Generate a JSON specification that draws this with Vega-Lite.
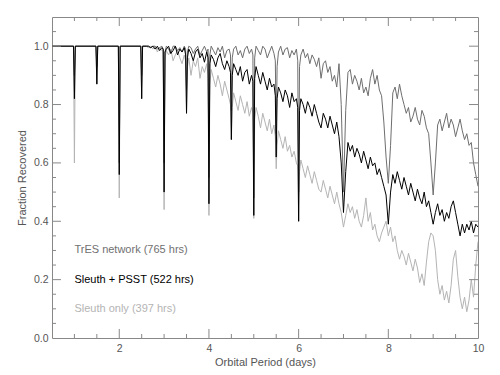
{
"$schema":"https://vega.github.io/schema/vega-lite/v6.json",
"width":426,"height":321,
"autosize":"none",
"padding":{"left":52,"top":17,"right":22,"bottom":37},
"background":"white",
"config":{"view":{"stroke":"#888","strokeWidth":1},
"axis":{"labelFont":"Liberation Sans","titleFont":"Liberation Sans","labelFontSize":10.5,"titleFontSize":11,"titleFontWeight":"normal","labelColor":"#555","titleColor":"#555","domain":false,"grid":false,"ticks":false}},
"datasets":{
"xmaj":[{"v":2},{"v":4},{"v":6},{"v":8}],
"xmin":[{"v":1},{"v":1.5},{"v":2.5},{"v":3},{"v":3.5},{"v":4.5},{"v":5},{"v":5.5},{"v":6.5},{"v":7},{"v":7.5},{"v":8.5},{"v":9},{"v":9.5}],
"ymaj":[{"v":0.2},{"v":0.4},{"v":0.6},{"v":0.8},{"v":1.0}],
"ymin":[{"v":0.05},{"v":0.1},{"v":0.15},{"v":0.25},{"v":0.3},{"v":0.35},{"v":0.45},{"v":0.5},{"v":0.55},{"v":0.65},{"v":0.7},{"v":0.75},{"v":0.85},{"v":0.9},{"v":0.95},{"v":1.05}],
"d":[
{"x":0.5,"t":1,"s":1,"o":1},{"x":0.98,"t":1,"s":1,"o":1},{"x":1.0,"t":0.9,"s":0.82,"o":0.6},{"x":1.02,"t":1,"s":1,"o":1},
{"x":1.48,"t":1,"s":1,"o":1},{"x":1.5,"t":0.93,"s":0.87,"o":0.87},{"x":1.52,"t":1,"s":1,"o":1},
{"x":1.98,"t":1,"s":1,"o":1},{"x":2.0,"t":0.6,"s":0.56,"o":0.48},{"x":2.02,"t":1,"s":1,"o":1},
{"x":2.48,"t":1,"s":1,"o":1},{"x":2.5,"t":0.9,"s":0.82,"o":0.82},{"x":2.52,"t":1,"s":1,"o":1},
{"x":2.6,"t":1,"s":1,"o":1},{"x":2.65,"t":1,"s":1,"o":0.995},{"x":2.7,"t":0.995,"s":0.995,"o":1},{"x":2.75,"t":1,"s":1,"o":0.99},
{"x":2.8,"t":1,"s":0.99,"o":1},{"x":2.85,"t":0.99,"s":1,"o":0.98},{"x":2.9,"t":0.995,"s":0.985,"o":0.995},{"x":2.95,"t":1,"s":0.995,"o":0.985},
{"x":2.98,"t":0.99,"s":0.99,"o":0.99},{"x":3.0,"t":0.6,"s":0.5,"o":0.44},{"x":3.02,"t":0.98,"s":0.98,"o":0.96},
{"x":3.05,"t":1,"s":0.99,"o":0.985},{"x":3.1,"t":0.99,"s":1,"o":0.97},{"x":3.15,"t":0.975,"s":0.975,"o":0.99},{"x":3.2,"t":1,"s":0.985,"o":0.95},
{"x":3.25,"t":1,"s":1,"o":0.97},{"x":3.3,"t":0.985,"s":0.97,"o":0.985},{"x":3.35,"t":0.995,"s":0.99,"o":0.96},{"x":3.4,"t":0.98,"s":0.98,"o":0.94},
{"x":3.45,"t":1,"s":0.995,"o":0.97},{"x":3.48,"t":0.99,"s":0.97,"o":0.95},{"x":3.5,"t":0.85,"s":0.77,"o":0.77},{"x":3.52,"t":0.98,"s":0.96,"o":0.93},
{"x":3.55,"t":1,"s":0.99,"o":0.96},{"x":3.6,"t":0.995,"s":0.975,"o":0.9},{"x":3.65,"t":0.975,"s":0.95,"o":0.95},{"x":3.7,"t":0.99,"s":0.98,"o":0.93},
{"x":3.75,"t":1,"s":0.99,"o":0.96},{"x":3.8,"t":0.97,"s":0.96,"o":0.89},{"x":3.85,"t":0.985,"s":0.975,"o":0.93},{"x":3.9,"t":1,"s":0.945,"o":0.91},
{"x":3.95,"t":0.98,"s":0.98,"o":0.94},{"x":3.98,"t":0.99,"s":0.96,"o":0.9},{"x":4.0,"t":0.55,"s":0.46,"o":0.42},{"x":4.02,"t":0.97,"s":0.94,"o":0.87},
{"x":4.05,"t":1,"s":0.97,"o":0.92},{"x":4.1,"t":0.985,"s":0.955,"o":0.89},{"x":4.15,"t":0.97,"s":0.93,"o":0.86},{"x":4.2,"t":0.995,"s":0.96,"o":0.9},
{"x":4.25,"t":0.98,"s":0.975,"o":0.87},{"x":4.3,"t":1,"s":0.94,"o":0.83},{"x":4.35,"t":0.96,"s":0.92,"o":0.88},{"x":4.4,"t":0.985,"s":0.95,"o":0.85},
{"x":4.45,"t":0.99,"s":0.93,"o":0.82},{"x":4.48,"t":0.97,"s":0.91,"o":0.8},{"x":4.5,"t":0.78,"s":0.68,"o":0.68},{"x":4.52,"t":0.96,"s":0.9,"o":0.79},
{"x":4.55,"t":0.99,"s":0.94,"o":0.84},{"x":4.6,"t":1,"s":0.92,"o":0.81},{"x":4.65,"t":0.97,"s":0.9,"o":0.78},{"x":4.7,"t":0.985,"s":0.93,"o":0.83},
{"x":4.75,"t":0.96,"s":0.88,"o":0.8},{"x":4.8,"t":0.99,"s":0.91,"o":0.77},{"x":4.85,"t":1,"s":0.92,"o":0.81},{"x":4.9,"t":0.975,"s":0.87,"o":0.76},
{"x":4.95,"t":0.99,"s":0.9,"o":0.79},{"x":4.98,"t":0.97,"s":0.88,"o":0.77},{"x":5.0,"t":0.48,"s":0.42,"o":0.41},{"x":5.02,"t":0.96,"s":0.89,"o":0.75},
{"x":5.05,"t":1,"s":0.93,"o":0.79},{"x":5.1,"t":0.985,"s":0.9,"o":0.76},{"x":5.15,"t":0.97,"s":0.87,"o":0.72},{"x":5.2,"t":1,"s":0.91,"o":0.77},
{"x":5.25,"t":0.99,"s":0.88,"o":0.74},{"x":5.3,"t":0.96,"s":0.85,"o":0.71},{"x":5.35,"t":0.98,"s":0.89,"o":0.75},{"x":5.4,"t":1,"s":0.86,"o":0.7},
{"x":5.45,"t":0.975,"s":0.87,"o":0.73},{"x":5.48,"t":0.95,"s":0.83,"o":0.69},{"x":5.5,"t":0.7,"s":0.62,"o":0.58},{"x":5.52,"t":0.93,"s":0.82,"o":0.66},
{"x":5.55,"t":0.98,"s":0.86,"o":0.71},{"x":5.6,"t":1,"s":0.84,"o":0.68},{"x":5.65,"t":0.97,"s":0.81,"o":0.65},{"x":5.7,"t":0.99,"s":0.85,"o":0.69},
{"x":5.75,"t":0.995,"s":0.83,"o":0.64},{"x":5.8,"t":0.96,"s":0.79,"o":0.66},{"x":5.85,"t":0.985,"s":0.84,"o":0.62},{"x":5.9,"t":0.97,"s":0.81,"o":0.64},
{"x":5.95,"t":0.99,"s":0.82,"o":0.6},{"x":5.98,"t":0.95,"s":0.79,"o":0.59},{"x":6.0,"t":0.5,"s":0.4,"o":0.4},{"x":6.02,"t":0.93,"s":0.78,"o":0.57},
{"x":6.05,"t":0.97,"s":0.82,"o":0.61},{"x":6.1,"t":0.99,"s":0.8,"o":0.58},{"x":6.15,"t":0.96,"s":0.77,"o":0.55},{"x":6.2,"t":0.975,"s":0.81,"o":0.59},
{"x":6.25,"t":0.94,"s":0.79,"o":0.56},{"x":6.3,"t":0.97,"s":0.76,"o":0.53},{"x":6.35,"t":0.955,"s":0.8,"o":0.57},{"x":6.4,"t":0.93,"s":0.77,"o":0.54},
{"x":6.45,"t":0.96,"s":0.74,"o":0.51},{"x":6.5,"t":0.89,"s":0.72,"o":0.5},{"x":6.55,"t":0.94,"s":0.77,"o":0.54},{"x":6.6,"t":0.95,"s":0.75,"o":0.51},
{"x":6.65,"t":0.91,"s":0.72,"o":0.48},{"x":6.7,"t":0.93,"s":0.76,"o":0.52},{"x":6.75,"t":0.88,"s":0.73,"o":0.49},{"x":6.8,"t":0.9,"s":0.7,"o":0.46},
{"x":6.85,"t":0.86,"s":0.74,"o":0.5},{"x":6.9,"t":0.94,"s":0.69,"o":0.46},{"x":6.95,"t":0.8,"s":0.6,"o":0.43},{"x":7.0,"t":0.5,"s":0.43,"o":0.38},
{"x":7.05,"t":0.78,"s":0.57,"o":0.42},{"x":7.1,"t":0.91,"s":0.67,"o":0.46},{"x":7.15,"t":0.92,"s":0.64,"o":0.43},{"x":7.2,"t":0.87,"s":0.66,"o":0.45},
{"x":7.25,"t":0.9,"s":0.62,"o":0.41},{"x":7.3,"t":0.88,"s":0.65,"o":0.44},{"x":7.35,"t":0.85,"s":0.63,"o":0.4},{"x":7.4,"t":0.89,"s":0.6,"o":0.38},
{"x":7.45,"t":0.84,"s":0.64,"o":0.42},{"x":7.5,"t":0.86,"s":0.61,"o":0.48},{"x":7.55,"t":0.83,"s":0.58,"o":0.4},{"x":7.6,"t":0.89,"s":0.62,"o":0.43},
{"x":7.65,"t":0.92,"s":0.59,"o":0.37},{"x":7.7,"t":0.87,"s":0.6,"o":0.39},{"x":7.75,"t":0.9,"s":0.56,"o":0.35},{"x":7.8,"t":0.85,"s":0.58,"o":0.33},
{"x":7.85,"t":0.83,"s":0.55,"o":0.36},{"x":7.9,"t":0.74,"s":0.52,"o":0.38},{"x":7.95,"t":0.62,"s":0.49,"o":0.4},{"x":8.0,"t":0.53,"s":0.39,"o":0.35},
{"x":8.05,"t":0.66,"s":0.5,"o":0.38},{"x":8.1,"t":0.84,"s":0.56,"o":0.33},{"x":8.15,"t":0.86,"s":0.53,"o":0.35},{"x":8.2,"t":0.82,"s":0.57,"o":0.3},
{"x":8.25,"t":0.87,"s":0.54,"o":0.27},{"x":8.3,"t":0.83,"s":0.51,"o":0.3},{"x":8.35,"t":0.8,"s":0.55,"o":0.28},{"x":8.4,"t":0.77,"s":0.52,"o":0.25},
{"x":8.45,"t":0.79,"s":0.49,"o":0.29},{"x":8.5,"t":0.74,"s":0.53,"o":0.26},{"x":8.55,"t":0.76,"s":0.5,"o":0.23},{"x":8.6,"t":0.79,"s":0.47,"o":0.27},
{"x":8.65,"t":0.75,"s":0.51,"o":0.24},{"x":8.7,"t":0.73,"s":0.48,"o":0.19},{"x":8.75,"t":0.78,"s":0.46,"o":0.22},{"x":8.8,"t":0.76,"s":0.5,"o":0.18},
{"x":8.85,"t":0.72,"s":0.45,"o":0.26},{"x":8.9,"t":0.7,"s":0.47,"o":0.33},{"x":8.95,"t":0.6,"s":0.43,"o":0.36},{"x":9.0,"t":0.49,"s":0.39,"o":0.35},
{"x":9.05,"t":0.6,"s":0.43,"o":0.3},{"x":9.1,"t":0.73,"s":0.46,"o":0.2},{"x":9.15,"t":0.75,"s":0.42,"o":0.15},{"x":9.2,"t":0.71,"s":0.44,"o":0.18},
{"x":9.25,"t":0.74,"s":0.4,"o":0.13},{"x":9.3,"t":0.77,"s":0.43,"o":0.16},{"x":9.35,"t":0.72,"s":0.41,"o":0.12},{"x":9.4,"t":0.75,"s":0.45,"o":0.18},
{"x":9.45,"t":0.73,"s":0.47,"o":0.27},{"x":9.5,"t":0.69,"s":0.43,"o":0.3},{"x":9.55,"t":0.72,"s":0.39,"o":0.21},{"x":9.6,"t":0.75,"s":0.35,"o":0.14},
{"x":9.65,"t":0.71,"s":0.39,"o":0.1},{"x":9.7,"t":0.68,"s":0.36,"o":0.14},{"x":9.75,"t":0.7,"s":0.39,"o":0.09},{"x":9.8,"t":0.66,"s":0.37,"o":0.13},
{"x":9.85,"t":0.67,"s":0.4,"o":0.2},{"x":9.9,"t":0.6,"s":0.36,"o":0.14},{"x":9.95,"t":0.56,"s":0.39,"o":0.25},{"x":10.0,"t":0.52,"s":0.38,"o":0.33}
]},
"layer":[
{"data":{"name":"d"},"mark":{"type":"line","color":"#b4b4b4","strokeWidth":1,"clip":true},
 "encoding":{
  "x":{"field":"x","type":"quantitative","scale":{"domain":[0.5,10],"nice":false,"zero":false},
   "axis":{"orient":"bottom","title":"Orbital Period (days)","values":[2,4,6,8,10],"format":".0f","labelPadding":5,"titlePadding":3,"labelFlush":false}},
  "y":{"field":"o","type":"quantitative","scale":{"domain":[0,1.1],"nice":false},
   "axis":{"orient":"left","title":"Fraction Recovered","values":[0,0.2,0.4,0.6,0.8,1.0],"format":".1f","labelPadding":4,"titlePadding":6,"labelFlush":false}}}},
{"data":{"name":"d"},"mark":{"type":"line","color":"#6e6e6e","strokeWidth":1,"clip":true},
 "encoding":{"x":{"field":"x","type":"quantitative","axis":null},"y":{"field":"t","type":"quantitative","axis":null}}},
{"data":{"name":"d"},"mark":{"type":"line","color":"#000000","strokeWidth":1,"clip":true},
 "encoding":{"x":{"field":"x","type":"quantitative","axis":null},"y":{"field":"s","type":"quantitative","axis":null}}},
{"data":{"values":[{"label":"TrES network (765 hrs)","x":1,"y":0.3,"k":"t"},{"label":"Sleuth + PSST (522 hrs)","x":1,"y":0.2,"k":"s"},{"label":"Sleuth only (397 hrs)","x":1,"y":0.1,"k":"o"}]},
 "mark":{"type":"text","align":"left","baseline":"middle","font":"Liberation Sans","fontSize":11},
 "encoding":{"x":{"field":"x","type":"quantitative","axis":null},"y":{"field":"y","type":"quantitative","axis":null},"text":{"field":"label"},
  "color":{"field":"k","type":"nominal","scale":{"domain":["t","s","o"],"range":["#707070","#000000","#b4b4b4"]},"legend":null}}},
{"data":{"name":"xmaj"},"mark":{"type":"rule","color":"#888","strokeWidth":1},
 "encoding":{"x":{"field":"v","type":"quantitative","axis":null},"y":{"datum":0,"type":"quantitative","axis":null},"y2":{"datum":0.031}}},
{"data":{"name":"xmin"},"mark":{"type":"rule","color":"#888","strokeWidth":1},
 "encoding":{"x":{"field":"v","type":"quantitative","axis":null},"y":{"datum":0,"type":"quantitative","axis":null},"y2":{"datum":0.0137}}},
{"data":{"name":"xmaj"},"mark":{"type":"rule","color":"#888","strokeWidth":1},
 "encoding":{"x":{"field":"v","type":"quantitative","axis":null},"y":{"datum":1.1,"type":"quantitative","axis":null},"y2":{"datum":1.069}}},
{"data":{"name":"xmin"},"mark":{"type":"rule","color":"#888","strokeWidth":1},
 "encoding":{"x":{"field":"v","type":"quantitative","axis":null},"y":{"datum":1.1,"type":"quantitative","axis":null},"y2":{"datum":1.0863}}},
{"data":{"name":"ymaj"},"mark":{"type":"rule","color":"#888","strokeWidth":1},
 "encoding":{"y":{"field":"v","type":"quantitative","axis":null},"x":{"datum":0.5,"type":"quantitative","axis":null},"x2":{"datum":0.7}}},
{"data":{"name":"ymin"},"mark":{"type":"rule","color":"#888","strokeWidth":1},
 "encoding":{"y":{"field":"v","type":"quantitative","axis":null},"x":{"datum":0.5,"type":"quantitative","axis":null},"x2":{"datum":0.589}}},
{"data":{"name":"ymaj"},"mark":{"type":"rule","color":"#888","strokeWidth":1},
 "encoding":{"y":{"field":"v","type":"quantitative","axis":null},"x":{"datum":10,"type":"quantitative","axis":null},"x2":{"datum":9.8}}},
{"data":{"name":"ymin"},"mark":{"type":"rule","color":"#888","strokeWidth":1},
 "encoding":{"y":{"field":"v","type":"quantitative","axis":null},"x":{"datum":10,"type":"quantitative","axis":null},"x2":{"datum":9.911}}}
],
"resolve":{"axis":{"x":"independent","y":"independent"}}
}
